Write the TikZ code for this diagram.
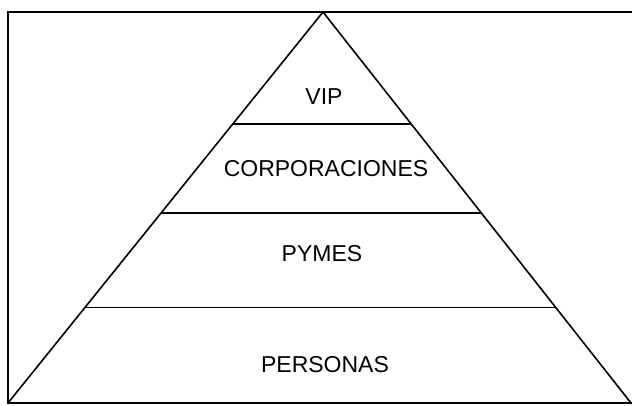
\documentclass[tikz,border=0pt]{standalone}
\usepackage{fontspec}
\setmainfont{Liberation Sans}
\usetikzlibrary{calc}
\begin{document}
\begin{tikzpicture}[
  x=1pt, y=-1pt,
  level/.style={font=\fontsize{23}{27}\selectfont},
  edge/.style={line width=1.6pt},
  frame/.style={line width=2.2pt}
]
\useasboundingbox (0,0) rectangle (632,406);
\clip (0,0) rectangle (632,406);
\draw[frame] (8,12) rectangle (640,403);

\coordinate (apex) at (323,12);
\coordinate (bl) at (8,403);
\coordinate (br) at (631,403);
\draw[edge] (bl) -- (apex) -- (br);

% separadores
\draw[edge] ($(apex)!0.2864!(bl)$) -- ($(apex)!0.2864!(br)$);
\draw[edge] ($(apex)!0.5140!(bl)$) -- ($(apex)!0.5140!(br)$);
\draw[edge] ($(apex)!0.7558!(bl)$) -- ($(apex)!0.7558!(br)$);

\node[level] (vip) at (324,97) {VIP};
\node[level] (corp) at (326,169) {CORPORACIONES};
\node[level] (pymes) at (322,254) {PYMES};
\node[level] (personas) at (325,365) {PERSONAS};
\end{tikzpicture}
\end{document}
